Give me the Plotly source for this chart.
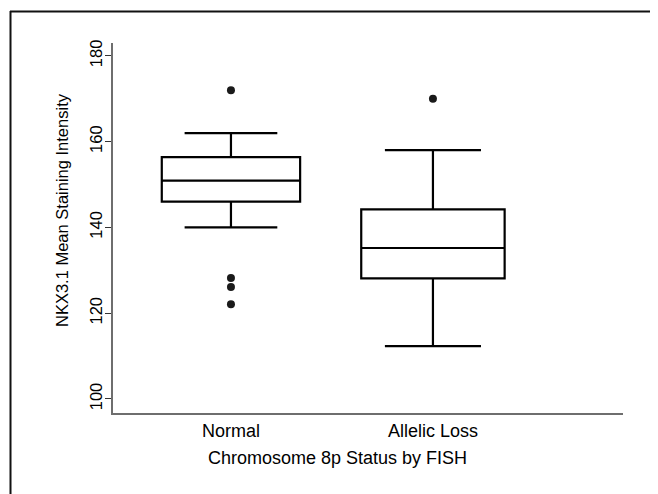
import plotly.graph_objects as go

# Data
categories = ["Normal", "Allelic Loss"]
positions = [0, 1]
q1 = [146.0, 128.1]
median = [150.9, 135.2]
q3 = [156.4, 144.2]
lower_fence = [140.0, 112.3]
upper_fence = [162.0, 158.0]
outliers_normal = [172.0, 128.2, 126.1, 122.1]
outliers_allelic = [170.0]
y_ticks = [100, 120, 140, 160, 180]

fig = go.Figure()
widths = [0.685, 0.71]
for i, cat in enumerate(categories):
    fig.add_trace(go.Box(
        x=[positions[i]], q1=[q1[i]], median=[median[i]], q3=[q3[i]],
        lowerfence=[lower_fence[i]], upperfence=[upper_fence[i]],
        width=widths[i], whiskerwidth=0.67,
        line=dict(color="black", width=2.2),
        fillcolor="rgba(0,0,0,0)", boxpoints=False, name=cat,
        showlegend=False, hoverinfo="skip",
    ))

fig.add_trace(go.Scatter(
    x=[positions[0]] * len(outliers_normal) + [positions[1]] * len(outliers_allelic),
    y=outliers_normal + outliers_allelic,
    mode="markers", marker=dict(color="#1a1a1a", size=8),
    showlegend=False, hoverinfo="skip",
))

fam = "Liberation Sans, Arial, sans-serif"
hfont = dict(family=fam, size=18, color="black")
vfont = dict(family=fam, size=16.5, color="black")

# page offset: body has an 8px margin; plot area in page coords is x 113..623, y 43..413
fig.update_layout(
    width=650, height=486,
    margin=dict(l=105, r=35, t=35, b=81),
    paper_bgcolor="white", plot_bgcolor="white",
    font=hfont,
    xaxis=dict(
        range=[-0.584, 1.941], tickvals=positions, ticktext=categories,
        showline=True, linecolor="#6e6e6e", linewidth=2, ticks="",
        showgrid=False, zeroline=False, tickfont=hfont, fixedrange=True,
    ),
    yaxis=dict(
        range=[96.73, 183.0], tickvals=y_ticks,
        ticktext=[str(v) for v in y_ticks], tickangle=-90,
        showline=True, linecolor="#6e6e6e", linewidth=2,
        ticks="outside", ticklen=6, tickcolor="#333333", tickwidth=1,
        ticklabelstandoff=-4,
        showgrid=False, zeroline=False, tickfont=vfont, fixedrange=True,
    ),
    annotations=[
        dict(text="NKX3.1 Mean Staining Intensity", xref="paper", yref="paper",
             x=(62 - 113) / 510, y=(413 - 210) / 370, textangle=-90,
             showarrow=False, font=vfont, xanchor="center", yanchor="middle"),
        dict(text="Chromosome 8p Status by FISH", xref="paper", yref="paper",
             x=(337 - 113) / 510, y=(413 - 458) / 370,
             showarrow=False, font=hfont, xanchor="center", yanchor="middle"),
    ],
    shapes=[
        dict(type="line", xref="paper", yref="paper",
             x0=(10 - 113) / 510, x1=(660 - 113) / 510,
             y0=(413 - 11.5) / 370, y1=(413 - 11.5) / 370,
             line=dict(color="#111111", width=2)),
        dict(type="line", xref="paper", yref="paper",
             x0=(10.5 - 113) / 510, x1=(10.5 - 113) / 510,
             y0=(413 - 11) / 370, y1=(413 - 496) / 370,
             line=dict(color="#111111", width=2)),
    ],
)

fig.write_html("out.html")
